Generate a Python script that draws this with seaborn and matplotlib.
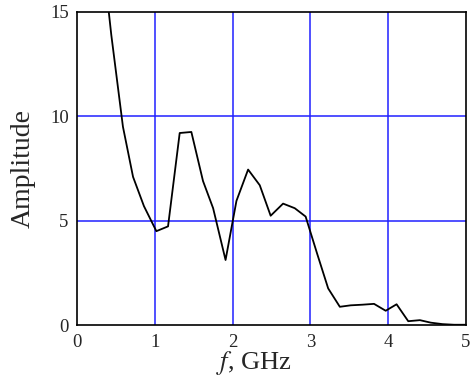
import matplotlib
matplotlib.use('Agg')

import matplotlib.pyplot as plt
import seaborn as sns
import numpy as np
import pandas as pd

# Datos (frecuencia en GHz, amplitud)
freq = [0.29, 0.44, 0.59, 0.72, 0.86, 1.02, 1.17, 1.32, 1.47, 1.62, 1.75, 1.91,
        2.05, 2.20, 2.35, 2.49, 2.65, 2.80, 2.94, 3.09, 3.23, 3.38, 3.52, 3.67,
        3.82, 3.97, 4.11, 4.26, 4.41, 4.55, 4.70, 4.85, 5.00]
amplitude = [19.0, 13.9, 9.5, 7.1, 5.7, 4.5, 4.73, 9.2, 9.25, 6.9, 5.6, 3.12,
             5.95, 7.45, 6.7, 5.24, 5.82, 5.6, 5.2, 3.4, 1.76, 0.88, 0.95, 0.98,
             1.02, 0.69, 1.0, 0.19, 0.24, 0.12, 0.05, 0.02, 0.02]

x_ticks = [0, 1, 2, 3, 4, 5]
y_ticks = [0, 5, 10, 15]

df = pd.DataFrame({'f': freq, 'amp': amplitude})

sns.set_style('white')
plt.rcParams['font.family'] = ['Liberation Serif', 'DejaVu Serif']
plt.rcParams['mathtext.fontset'] = 'stix'

fig = plt.figure(figsize=(4.7, 3.83), dpi=100)
ax = fig.add_axes([0.164, 0.151, 0.827, 0.818])

# Rejilla azul solo en los valores interiores
for xv in x_ticks[1:-1]:
    ax.axvline(xv, color='#2020ff', linewidth=1.1, zorder=1)
for yv in y_ticks[1:-1]:
    ax.axhline(yv, color='#2020ff', linewidth=1.1, zorder=1)

sns.lineplot(data=df, x='f', y='amp', color='black', linewidth=1.3, ax=ax, zorder=3)

ax.set_xlim(0, 5)
ax.set_ylim(0, 15)
ax.set_xticks(x_ticks)
ax.set_yticks(y_ticks)
ax.set_xticks(np.arange(0.5, 5, 1.0), minor=True)
ax.set_yticks([2.5, 7.5, 12.5], minor=True)
ax.tick_params(axis='both', which='major', direction='out', length=4, width=1,
               labelsize=13.5, color='black', pad=2)
ax.tick_params(axis='both', which='minor', direction='out', length=3, width=1,
               color='black')

for s in ax.spines.values():
    s.set_color('black')
    s.set_linewidth(1.2)

ax.set_xlabel('$f$, GHz', fontsize=19, labelpad=-1)
ax.xaxis.label.set_x(0.455)
ax.set_ylabel('Amplitude', fontsize=20, labelpad=10)

plt.savefig('out.png', dpi=100)
plt.close(fig)
